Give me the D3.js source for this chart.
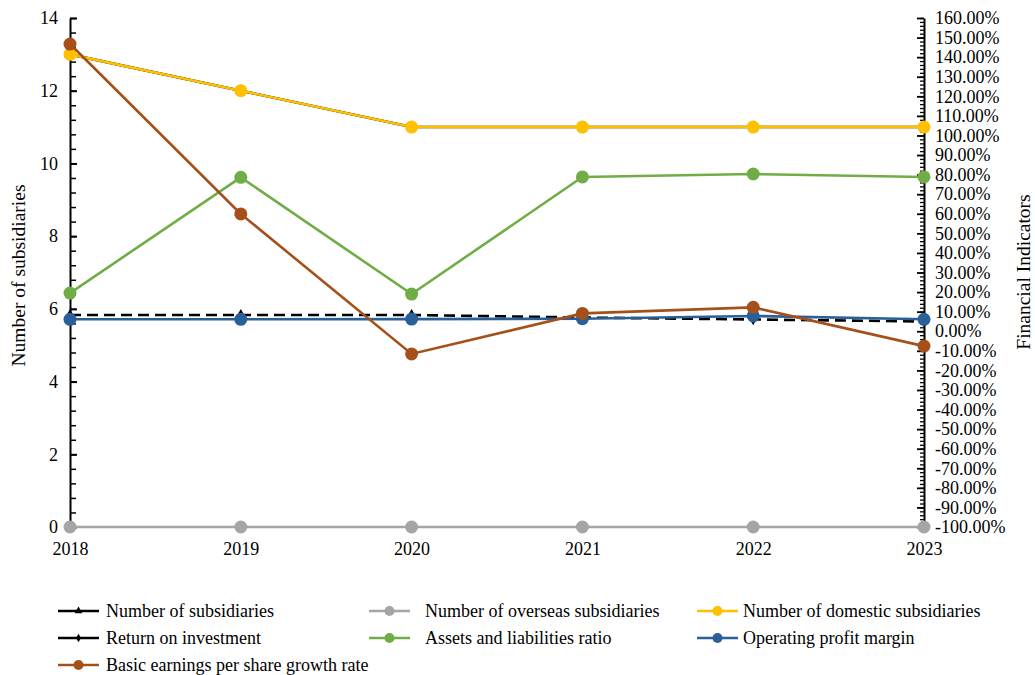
<!DOCTYPE html>
<html>
<head>
<meta charset="utf-8">
<script src="https://cdn.jsdelivr.net/npm/d3@7"></script>
<style>
  html, body { margin: 0; padding: 0; background: #fff; }
  svg, svg text { font-family: "Liberation Serif", "Tinos", "Times New Roman", "DejaVu Serif", serif !important; }
</style>
</head>
<body>
<svg id="chart" width="1035" height="675"></svg>
<script>
// ---- data ----
const years = ["2018", "2019", "2020", "2021", "2022", "2023"];
const subsidiaries = [13, 12, 11, 11, 11, 11];
const overseasSubsidiaries = [0, 0, 0, 0, 0, 0];
const domesticSubsidiaries = [13, 12, 11, 11, 11, 11];
const returnOnInvestment = [8.3, 8.3, 8.3, 7.0, 6.0, 5.0];          // %
const assetsLiabilitiesRatio = [19.5, 78.6, 19.0, 78.8, 80.3, 78.8]; // %
const operatingProfitMargin = [6.1, 6.1, 6.2, 6.4, 7.8, 6.1];      // %
const epsGrowthRate = [146.7, 59.9, -11.6, 9.1, 12.2, -7.6];        // %
const leftTicks = [0, 2, 4, 6, 8, 10, 12, 14];
const rightTicks = d3.range(-100, 161, 10);

const seriesDefs = [
  { name: "Number of subsidiaries", values: subsidiaries, axis: "left", color: "#000000", marker: "triangle", dash: null },
  { name: "Number of overseas subsidiaries", values: overseasSubsidiaries, axis: "left", color: "#A5A5A5", marker: "circle", dash: null },
  { name: "Number of domestic subsidiaries", values: domesticSubsidiaries, axis: "left", color: "#FFC000", marker: "circle", dash: null },
  { name: "Return on investment", values: returnOnInvestment, axis: "right", color: "#000000", marker: "diamond", dash: "11,6" },
  { name: "Assets and liabilities ratio", values: assetsLiabilitiesRatio, axis: "right", color: "#70AD47", marker: "circle", dash: null },
  { name: "Operating profit margin", values: operatingProfitMargin, axis: "right", color: "#2A6099", marker: "circle", dash: null },
  { name: "Basic earnings per share growth rate", values: epsGrowthRate, axis: "right", color: "#A5501A", marker: "circle", dash: null }
];

// ---- layout ----
const svg = d3.select("#chart");
const plotLeft = 70, plotRight = 924, plotTop = 18, plotBottom = 527;

const x = d3.scalePoint().domain(years).range([plotLeft, plotRight]);
const yL = d3.scaleLinear().domain([0, 14]).range([plotBottom, plotTop]);
const yR = d3.scaleLinear().domain([-100, 160]).range([plotBottom, plotTop]);

const fontSize = 18;

// Left axis minor ticks
svg.append("g")
  .attr("transform", `translate(${plotLeft},0)`)
  .call(d3.axisLeft(yL).tickValues(d3.range(0, 14.01, 0.4)).tickSize(-6).tickFormat(""))
  .call(g => g.select(".domain").remove())
  .call(g => g.selectAll("line").attr("stroke", "#000").attr("stroke-width", 1.5));

// Left axis major
svg.append("g")
  .attr("transform", `translate(${plotLeft},0)`)
  .call(d3.axisLeft(yL).tickValues(leftTicks).tickSize(-7).tickPadding(12).tickSizeOuter(0).tickFormat(d3.format("d")))
  .call(g => g.select(".domain").attr("stroke", "#000").attr("stroke-width", 2))
  .call(g => g.selectAll("line").attr("stroke", "#000").attr("stroke-width", 2))
  .call(g => g.selectAll("text").attr("font-size", fontSize).attr("fill", "#000"));

// Right axis minor ticks
svg.append("g")
  .attr("transform", `translate(${plotRight},0)`)
  .call(d3.axisRight(yR).tickValues(d3.range(-100, 160.1, 2)).tickSize(-4).tickFormat(""))
  .call(g => g.select(".domain").remove())
  .call(g => g.selectAll("line").attr("stroke", "#000").attr("stroke-width", 1.3));

// Right axis major
svg.append("g")
  .attr("transform", `translate(${plotRight},0)`)
  .call(d3.axisRight(yR).tickValues(rightTicks).tickSize(-7).tickPadding(11).tickSizeOuter(0)
    .tickFormat(d => d.toFixed(2) + "%"))
  .call(g => g.select(".domain").attr("stroke", "#000").attr("stroke-width", 2))
  .call(g => g.selectAll("line").attr("stroke", "#000").attr("stroke-width", 1.8))
  .call(g => g.selectAll("text").attr("font-size", fontSize).attr("fill", "#000"));

// X axis labels
svg.append("g")
  .attr("transform", `translate(0,${plotBottom})`)
  .call(d3.axisBottom(x).tickSize(0).tickPadding(15))
  .call(g => g.select(".domain").remove())
  .call(g => g.selectAll("text").attr("font-size", fontSize).attr("fill", "#000"));

// Axis titles
svg.append("text")
  .attr("transform", `translate(25,275.5) rotate(-90)`)
  .attr("text-anchor", "middle")
  .attr("font-size", 19.5)
  .text("Number of subsidiaries");

svg.append("text")
  .attr("transform", `translate(1030,272) rotate(-90)`)
  .attr("text-anchor", "middle")
  .attr("font-size", 19.5)
  .text("Financial Indicators");

// Marker drawing
function drawMarker(sel, type, color, size) {
  if (type === "circle") {
    sel.append("circle").attr("r", size).attr("fill", color);
  } else if (type === "triangle") {
    sel.append("path").attr("d", d3.symbol(d3.symbolTriangle, size * size * 2)()).attr("fill", color);
  } else if (type === "diamond") {
    sel.append("path").attr("d", d3.symbol(d3.symbolDiamond, size * size * 1.6)()).attr("fill", color);
  }
}

// Series
const plot = svg.append("g");
seriesDefs.forEach(s => {
  const yS = s.axis === "left" ? yL : yR;
  const line = d3.line().x((d, i) => x(years[i])).y(d => yS(d));
  plot.append("path")
    .datum(s.values)
    .attr("d", line)
    .attr("fill", "none")
    .attr("stroke", s.color)
    .attr("stroke-width", 2.6)
    .attr("stroke-dasharray", s.dash);
  s.values.forEach((v, i) => {
    const g = plot.append("g").attr("transform", `translate(${x(years[i])},${yS(v)})`);
    drawMarker(g, s.marker, s.color, s.marker === "circle" ? 6.5 : 5);
  });
});

// Legend
const legendCols = [58, 369, 697];
const legendTextX = [106, 425, 743];
const legendRows = [611, 638, 665];
seriesDefs.forEach((s, i) => {
  const col = i % 3;
  const cx = legendCols[col], cy = legendRows[Math.floor(i / 3)];
  const g = svg.append("g").attr("transform", `translate(${cx},${cy})`);
  g.append("line").attr("x1", 0).attr("x2", 41).attr("y1", 0).attr("y2", 0)
    .attr("stroke", s.color).attr("stroke-width", 2.6);
  const m = g.append("g").attr("transform", "translate(20.5,0)");
  drawMarker(m, s.marker, s.color, s.marker === "circle" ? 5 : 3.6);
  g.append("text").attr("x", legendTextX[col] - cx).attr("y", 0).attr("dy", "0.35em")
    .attr("font-size", fontSize).text(s.name);
});
</script>
</body>
</html>
